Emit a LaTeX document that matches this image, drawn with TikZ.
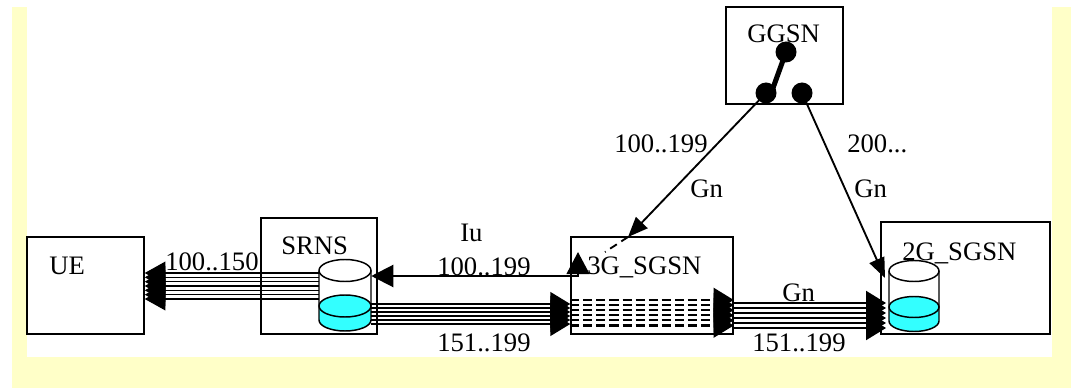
\documentclass[tikz,border=0pt]{standalone}
\usepackage{fontspec}
\setmainfont{Liberation Serif}
\usetikzlibrary{arrows.meta,fit}
\definecolor{bgyellow}{RGB}{255,255,200}
\definecolor{liquid}{RGB}{51,255,255}
\begin{document}
\begin{tikzpicture}[x=0.75pt,y=-0.75pt,
  box/.style={draw,line width=1.1pt,inner sep=0pt},
  hidden/.style={inner sep=0pt},
  lbl/.style={inner sep=0pt,anchor=base west,font=\fontsize{20}{24}\selectfont},
  thinline/.style={line width=1.1pt},
  uearrow/.style={thinline,-{Triangle[length=15.5pt,width=17pt]}},
  bundlearrow/.style={thinline,-{Triangle[length=15pt,width=18pt]}},
  dashedarrow/.style={line width=1.6pt,dash pattern=on 6.8pt off 3pt,-{Triangle[length=15pt,width=18pt]}},
  gnarrow/.style={line width=1.4pt,-{Triangle[length=15pt,width=12pt]}},
  iuline/.style={line width=1.6pt},
  dot/.style={fill=black}
]
\useasboundingbox (0,0) rectangle (1077,388);
% background frame
\fill[bgyellow] (12,7) rectangle (1071,388);
\fill[white] (27,7) rectangle (1052,357);

% boxes
\node[box,fit={(27,237) (144,334)}] (ue) {};
\node[box,fit={(261,218) (377,334)}] (srns) {};
\node[box,fit={(571,237) (733,334)}] (sg3) {};
\node[box,fit={(881,222) (1050,334)}] (sg2) {};
\node[box,fit={(726,7) (843,104)}] (ggsn) {};

% box labels
\node[lbl] (uelbl) at (49,274) {UE};
\node[lbl] (srnslbl) at (281,254) {SRNS};
\node[lbl] (sg3lbl) at (587,274) {3G\_SGSN};
\node[lbl] (sg2lbl) at (902,260) {2G\_SGSN};
\node[lbl] (ggsnlbl) at (747,43) {GGSN};

% cylinder placeholders
\node[hidden,fit={(319,259.5) (371,331)}] (srnscyl) {};
\node[hidden,fit={(889,260.5) (939,331.5)}] (sg2cyl) {};

% SRNS cylinder
\fill[liquid] (319,306) rectangle (371,320);
\fill[liquid] (345,320) ellipse [x radius=26,y radius=11];
\fill[liquid] (345,306) ellipse [x radius=26,y radius=11];
\draw[thinline] (345,270.5) ellipse [x radius=26,y radius=11];
\draw[thinline] (345,306) ellipse [x radius=26,y radius=11];
\draw[thinline] (319,270.5) -- (319,320) arc [start angle=180,end angle=0,x radius=26,y radius=11] -- (371,270.5);

% 2G cylinder
\fill[liquid] (889,307) rectangle (939,321);
\fill[liquid] (914,321) ellipse [x radius=25,y radius=10.5];
\fill[liquid] (914,307) ellipse [x radius=25,y radius=10.5];
\draw[thinline] (914,271) ellipse [x radius=25,y radius=10.5];
\draw[thinline] (914,307) ellipse [x radius=25,y radius=10.5];
\draw[thinline] (889,271) -- (889,321) arc [start angle=180,end angle=0,x radius=25,y radius=10.5] -- (939,271);

% SRNS -> UE bundle (100..150)
\foreach \i in {0,...,6} {
  \pgfmathsetmacro\yy{273+\i*4.333}
  \coordinate (ua\i) at (0,\yy);
  \draw[uearrow] (srnscyl.west |- ua\i) -- (ue.east |- ua\i);
}
% SRNS -> 3G bundle (151..199)
\foreach \i in {0,...,5} {
  \pgfmathsetmacro\yy{304+\i*4}
  \coordinate (sa\i) at (0,\yy);
  \draw[bundlearrow] (srnscyl.east |- sa\i) -- (sg3.west |- sa\i);
}
% dashed inside 3G
\foreach \i in {0,...,5} {
  \pgfmathsetmacro\yy{300+\i*5.1}
  \coordinate (da\i) at (0,\yy);
  \draw[dashedarrow] (sg3.west |- da\i) -- (sg3.east |- da\i);
}
% 3G -> 2G bundle
\coordinate (g2tipb) at (886,0);
\foreach \i/\w in {0/1.6pt,1/1.1pt,2/1.1pt,3/1.1pt,4/1.1pt,5/1.6pt} {
  \pgfmathsetmacro\yy{303+\i*5}
  \coordinate (ga\i) at (0,\yy);
  \draw[bundlearrow,line width=\w] (sg3.east |- ga\i) -- (g2tipb |- ga\i);
}

% Iu
\coordinate (iuy) at (0,276);
\coordinate (iucorner) at (578,276);
\coordinate (iuend) at (578,252);
\draw[iuline,{Triangle[length=16.5pt,width=16.5pt]}-{Triangle[length=16.5pt,width=17pt]}]
  (srnscyl.east |- iuy) -- (iucorner) -- (iuend);

% GGSN switch
\coordinate (swtop) at (786,52);
\coordinate (swl) at (766,93);
\coordinate (swr) at (802,93);
\coordinate (swarm) at (773,88);
\coordinate (g3tip) at (628,237);
\coordinate (g3dash) at (605,252);
\coordinate (g2tip) at (885,278);
\draw[gnarrow] (swl) -- (g3tip);
\draw[line width=1.4pt,dash pattern=on 6pt off 4pt] (g3tip) -- (g3dash);
\draw[gnarrow] (swr) -- (g2tip);
\draw[line width=3.8pt] (swtop) -- (swarm);
\fill[dot] (swtop) circle [radius=10.5];
\fill[dot] (swl) circle [radius=10.5];
\fill[dot] (swr) circle [radius=10.5];

% connector labels
\node[lbl] (l100150) at (165,270.5) {100..150};
\node[lbl] (liu) at (460,241.5) {Iu};
\node[lbl] (liu199) at (437,276) {100..199};
\node[lbl] (l151a) at (437,351.5) {151..199};
\node[lbl] (lgnm) at (782,301.5) {Gn};
\node[lbl] (l151b) at (752,351.5) {151..199};
\node[lbl] (l100199) at (614,153) {100..199};
\node[lbl] (lgnl) at (690,198) {Gn};
\node[lbl] (l200) at (847,153) {200...};
\node[lbl] (lgnr) at (854,198) {Gn};
\end{tikzpicture}
\end{document}
